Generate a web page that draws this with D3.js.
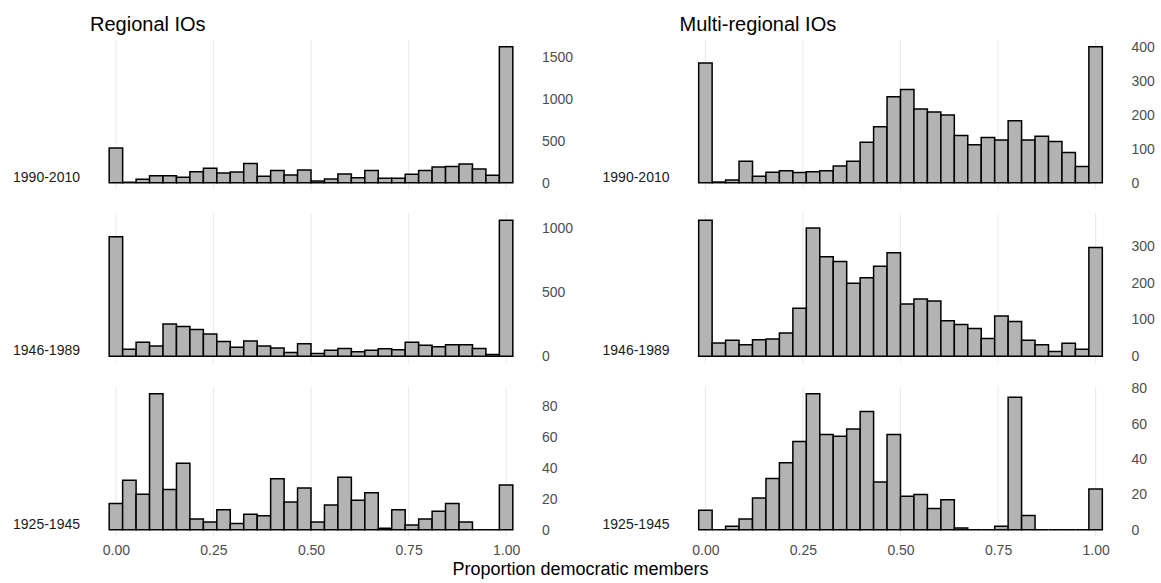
<!DOCTYPE html>
<html>
<head>
<meta charset="utf-8">
<script src="https://cdn.jsdelivr.net/npm/d3@7"></script>
<style>
  body { margin: 0; background: #fff; }
  text { font-family: "Liberation Sans", Arial, sans-serif; }
</style>
</head>
<body>
<div id="main"></div>
<script>
// chart data (counts per bin, 30 bins centred on k/29)
var groups = ["Regional IOs", "Multi-regional IOs"];
var periods = ["1990-2010", "1946-1989", "1925-1945"];
var xTicks = [0, 0.25, 0.5, 0.75, 1];

var regional1990 = [414, 5, 40, 84, 84, 64, 132, 173, 116, 128, 229, 76, 145, 92, 153,
                    20, 44, 104, 60, 145, 52, 52, 100, 145, 189, 193, 225, 165, 88, 1627];
var regional1946 = [935, 55, 110, 79, 251, 233, 209, 173, 115, 71, 118, 79, 65, 29, 97,
                    21, 47, 60, 34, 47, 58, 50, 110, 86, 73, 89, 89, 60, 13, 1063];
var regional1925 = [17, 32, 23, 88, 26, 43, 7, 5, 13, 4, 10, 9, 33, 18, 27,
                    5, 16, 34, 19, 24, 1, 13, 3, 7, 12, 17, 5, 0, 0, 29];
var multi1990 = [352, 2, 8, 63, 19, 31, 35, 30, 32, 35, 49, 63, 119, 165, 253,
                 274, 217, 208, 199, 139, 112, 133, 126, 182, 126, 137, 121, 89, 48, 400];
var multi1946 = [369, 36, 43, 31, 45, 47, 63, 130, 348, 270, 257, 198, 213, 244, 281,
                 142, 155, 150, 96, 86, 75, 48, 109, 94, 43, 31, 13, 35, 19, 295];
var multi1925 = [11, 0, 2, 6, 18, 29, 38, 50, 77, 54, 53, 57, 67, 27, 54,
                 19, 20, 12, 17, 1, 0, 0, 2, 75, 8, 0, 0, 0, 0, 23];

var yTicksRegional = [[0, 500, 1000, 1500], [0, 500, 1000], [0, 20, 40, 60, 80]];
var yTicksMulti = [[0, 100, 200, 300, 400], [0, 100, 200, 300], [0, 20, 40, 60, 80]];

var counts = [[regional1990, regional1946, regional1925],
              [multi1990, multi1946, multi1925]];
var yTicks = [yTicksRegional, yTicksMulti];

var ctx = {
    w: 1161,
    h: 583,
    colLeft: [89, 678.5],
    panelW: 444,
    rowTop: [40, 213.5, 387],
    panelH: 149.5,
    nBins: 30,
    FILL: "#b3b3b3",
    GRID: "#ebebeb",
    TICK: "#4d4d4d"
};

var drawPanel = function(g, col, row){
    var data = counts[col][row];
    var bw = 1 / (ctx.nBins - 1);
    var x0 = -bw / 2, x1 = 1 + bw / 2, pad = 0.05 * (x1 - x0);
    var left = ctx.colLeft[col], top = ctx.rowTop[row];
    var xScale = d3.scaleLinear().domain([x0 - pad, x1 + pad])
        .range([left, left + ctx.panelW]);
    var maxV = d3.max(data);
    var yScale = d3.scaleLinear().domain([-0.05 * maxV, 1.05 * maxV])
        .range([top + ctx.panelH, top]);

    // vertical grid lines
    g.append("g").selectAll("line")
        .data(xTicks)
        .enter()
        .append("line")
        .attr("x1", function(d){ return xScale(d); })
        .attr("x2", function(d){ return xScale(d); })
        .attr("y1", top)
        .attr("y2", top + ctx.panelH)
        .style("stroke", ctx.GRID)
        .style("stroke-width", 1.1);

    // bars (paths so that empty bins still show their outline)
    g.append("g").selectAll("path")
        .data(data)
        .enter()
        .append("path")
        .attr("d", function(d, i){
            var a = xScale(i * bw - bw / 2), b = xScale(i * bw + bw / 2);
            return "M" + a + "," + yScale(0) + "V" + yScale(d) + "H" + b + "V" + yScale(0) + "Z";
        })
        .style("fill", ctx.FILL)
        .style("stroke", "#000")
        .style("stroke-width", 1.5)
        .style("stroke-linejoin", "miter");

    // y axis on the right
    var yAxis = g.append("g")
        .attr("transform", "translate(" + (left + ctx.panelW) + ",0)")
        .call(d3.axisRight(yScale).tickValues(yTicks[col][row]).tickSize(0).tickPadding(9)
            .tickFormat(d3.format("d")));
    yAxis.select(".domain").remove();
    yAxis.selectAll("text")
        .style("font-family", "Liberation Sans, Arial, sans-serif")
        .style("font-size", "14px")
        .style("fill", ctx.TICK);

    // period label
    g.append("text")
        .attr("x", left - 9)
        .attr("y", yScale(0) - 1)
        .style("text-anchor", "end")
        .style("font-size", "14px")
        .style("fill", "#1a1a1a")
        .text(periods[row]);

    // x axis only on the bottom row
    if (row == periods.length - 1){
        var xAxis = g.append("g")
            .attr("transform", "translate(0," + (top + ctx.panelH) + ")")
            .call(d3.axisBottom(xScale).tickValues(xTicks).tickSize(0).tickPadding(9)
                .tickFormat(d3.format(".2f")));
        xAxis.select(".domain").remove();
        xAxis.selectAll("text")
            .style("font-family", "Liberation Sans, Arial, sans-serif")
            .style("font-size", "14px")
            .style("fill", ctx.TICK);
    }
};

var createViz = function(){
    var svgEl = d3.select("#main").append("svg")
        .attr("width", ctx.w)
        .attr("height", ctx.h);
    var rootG = svgEl.append("g").attr("id", "rootG");
    groups.forEach(function(name, col){
        rootG.append("text")
            .attr("x", ctx.colLeft[col] + 1)
            .attr("y", 31)
            .style("font-size", "20px")
            .style("fill", "#000")
            .text(name);
        periods.forEach(function(p, row){
            drawPanel(rootG.append("g"), col, row);
        });
    });
    // shared x-axis title
    rootG.append("text")
        .attr("x", ctx.w / 2)
        .attr("y", 575)
        .style("text-anchor", "middle")
        .style("font-size", "18px")
        .style("fill", "#000")
        .text("Proportion democratic members");
};

createViz();
</script>
</body>
</html>
